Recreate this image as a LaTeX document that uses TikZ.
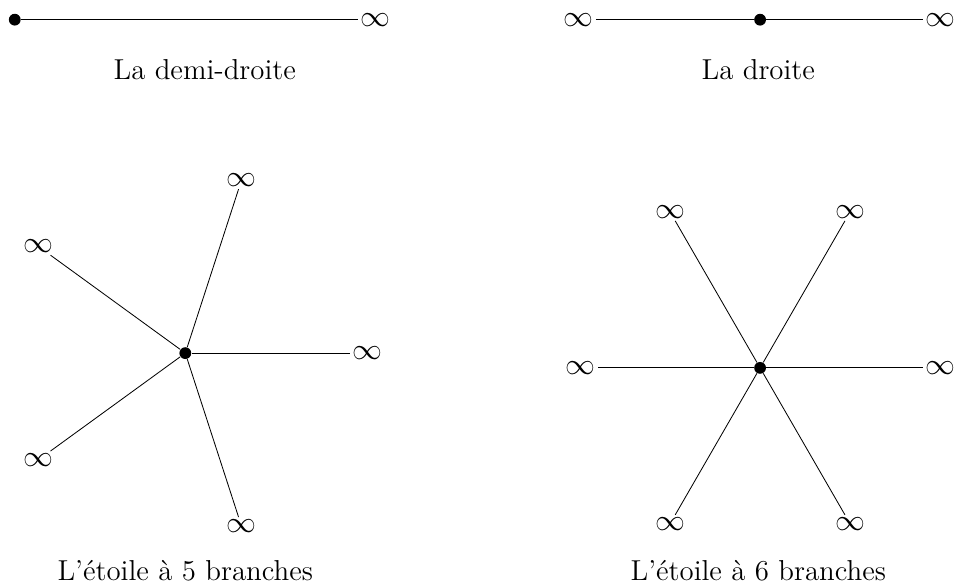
\documentclass[tikz,border=0pt]{standalone}
\usepackage{amsmath,amssymb}
\usepackage{tikz}
\usetikzlibrary{calc}
\tikzset{
  sommet/.style={circle, fill=black, inner sep=0pt, minimum size=0.2cm},
  infini/.style={inner sep=1pt, font=\Large},
  titre/.style={font=\fontsize{13.9}{16}\selectfont}
}

\begin{document}
\begin{tikzpicture}
                \useasboundingbox (0,0) rectangle (16.2,9.964);

                % Demi-droite
                \node[sommet] (o1) at (0.25,9.63) {};
                \node[infini] (i1) at (6.37,9.63) {$\infty$};
                \draw (o1) -- (i1);
                \node[titre] (t1) at (3.47,8.78) {La demi-droite};

                % Droite
                \node[sommet] (o2) at (12.88,9.63) {};
                \node[infini] (g2) at (9.8,9.63) {$\infty$};
                \node[infini] (d2) at (15.93,9.63) {$\infty$};
                \draw (g2) -- (o2) -- (d2);
                \node[titre] (t2) at (12.85,8.78) {La droite};

                % Etoile a 5 branches
                \node[sommet] (o5) at (3.14,3.98) {};
                \foreach \k in {0,...,4} {
                  \node[infini] (e5\k) at ($(o5)+(\k*72:3.08)$) {$\infty$};
                  \draw (o5) -- (e5\k);
                }
                \node[titre] (t5) at (3.14,0.3) {L'étoile à 5 branches};

                % Etoile a 6 branches
                \node[sommet] (o6) at (12.88,3.73) {};
                \foreach \k in {0,...,5} {
                  \node[infini] (e6\k) at ($(o6)+(\k*60:3.05)$) {$\infty$};
                  \draw (o6) -- (e6\k);
                }
                \node[titre] (t6) at (12.85,0.3) {L'étoile à 6 branches};
            \end{tikzpicture}
\end{document}
